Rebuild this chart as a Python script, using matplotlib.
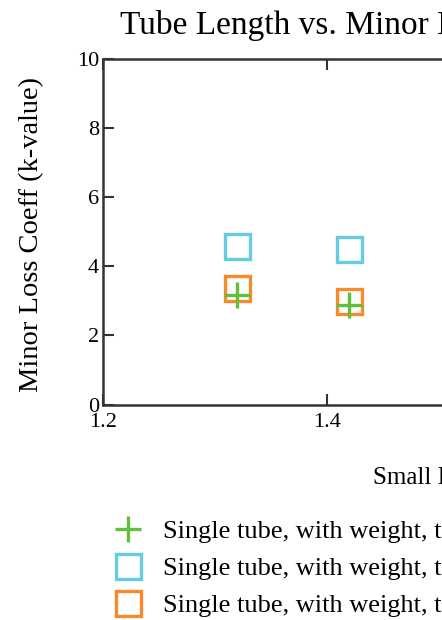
import matplotlib
matplotlib.use("Agg")
import matplotlib.pyplot as plt

# Data
tube_length = [1.32, 1.42]
k_series1 = [3.17, 2.88]   # green +
k_series2 = [4.57, 4.50]   # cyan squares
k_series3 = [3.36, 3.00]   # orange squares
labels = ["Single tube, with weight, test 1",
          "Single tube, with weight, test 2",
          "Single tube, with weight, test 3"]
x_ticks = [1.2, 1.4, 1.6, 1.8]
y_ticks = [0, 2, 4, 6, 8, 10]

W, H = 442, 620
fig = plt.figure(figsize=(W / 100, H / 100), dpi=100)
plt.rcParams['font.family'] = ['Liberation Serif', 'DejaVu Serif']

left, right_px = 103.3, 103.3 + 0.6 * 1117
top, bottom = 58.5, 404.7
ax = fig.add_axes([left / W, (H - bottom) / H, (right_px - left) / W, (bottom - top) / H])

green = '#62BE3E'
cyan = '#66CCE0'
orange = '#F98A2B'

h1, = ax.plot(tube_length, k_series1, linestyle='none', marker='+', markersize=19,
              markeredgewidth=2.4, color=green, label=labels[0], zorder=4)
h2, = ax.plot(tube_length, k_series2, linestyle='none', marker='s', markersize=18,
              markeredgewidth=2.4, markerfacecolor='none', markeredgecolor=cyan,
              label=labels[1], zorder=3)
h3, = ax.plot(tube_length, k_series3, linestyle='none', marker='s', markersize=18,
              markeredgewidth=2.4, markerfacecolor='none', markeredgecolor=orange,
              label=labels[2], zorder=3)

ax.set_xlim(1.2, 1.8)
ax.set_ylim(0, 10)
ax.set_xticks(x_ticks)
ax.set_yticks(y_ticks)
ax.set_xticklabels(['1.2', '1.4', '1.6', '1.8'])
ax.set_yticklabels([str(v) for v in y_ticks])
ax.tick_params(direction='in', length=8, width=1.5, color='#333333',
               labelsize=16, top=True, right=True, pad=3)
ax.tick_params(axis='x', pad=6)
for s in ax.spines.values():
    s.set_linewidth(1.8)
    s.set_color('#333333')

fig.text(120 / W, 1 - 25 / H, "Tube Length vs. Minor Loss Coefficient", ha='left',
         va='center', fontsize=24)
fig.text(32 / W, 1 - 234 / H, "Minor Loss Coeff (k-value)", rotation=90,
         ha='center', va='center', fontsize=20.5)
fig.text(373 / W, 1 - 478 / H, "Small Length Tube (m)", ha='left', va='center', fontsize=18)

fig.legend(handles=[h1, h2, h3], loc='upper left',
           bbox_to_anchor=(112 / W, 1 - 520 / H), bbox_transform=fig.transFigure,
           frameon=False, fontsize=19, borderaxespad=0, borderpad=0,
           handlelength=1.2, handletextpad=0.75, labelspacing=0.5,
           markerscale=1.0)

fig.savefig('out.png', dpi=100)
